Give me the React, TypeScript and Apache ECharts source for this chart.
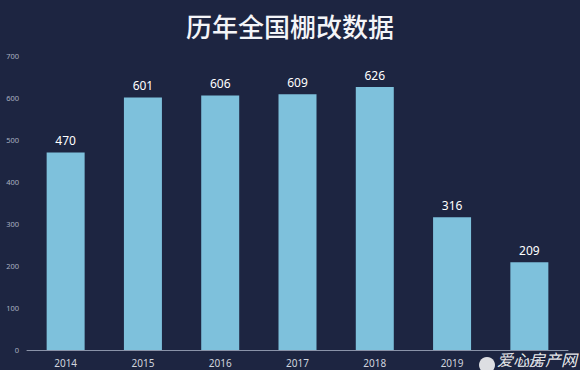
import React, { useEffect, useRef } from "react";
import * as echarts from "echarts";

const years = ["2014", "2015", "2016", "2017", "2018", "2019", "2020"];
const values = [470, 601, 606, 609, 626, 316, 209];
const title = "历年全国棚改数据";
const watermark = "爱心房产网";

export default function App() {
  const ref = useRef<HTMLDivElement>(null);
  useEffect(() => {
    const chart = echarts.init(ref.current!, null, { renderer: "svg" });
    chart.setOption({
      animation: false,
      backgroundColor: "#1d2541",
      title: {
        text: title,
        left: "center",
        top: 7,
        textStyle: {
          color: "#f4f5f8",
          fontSize: 26,
          fontWeight: 500,
          fontFamily: "Noto Sans CJK SC",
        },
      },
      grid: { left: 27, right: 12, top: 56, bottom: 20 },
      xAxis: {
        type: "category",
        data: years,
        axisLine: { lineStyle: { color: "#8a93a8", width: 1 } },
        axisTick: { show: false },
        axisLabel: { color: "#d0d4de", fontSize: 10, margin: 8, fontFamily: "Noto Sans" },
      },
      yAxis: {
        type: "value",
        min: 0,
        max: 700,
        interval: 100,
        splitLine: { show: false },
        axisLine: { show: false },
        axisTick: { show: false },
        axisLabel: { color: "#a9b0c0", fontSize: 7.5, margin: 8, fontFamily: "Noto Sans" },
      },
      series: [
        {
          type: "bar",
          data: values,
          barWidth: 38,
          itemStyle: { color: "#7ec1dc" },
          label: {
            show: true,
            position: "top",
            distance: 6,
            color: "#ffffff",
            fontSize: 12,
            fontFamily: "Noto Sans",
          },
        },
      ],
      graphic: [
        {
          type: "circle",
          shape: { cx: 487, cy: 365, r: 8 },
          style: { fill: "#ffffff", opacity: 0.85 },
        },
        {
          type: "text",
          x: 497,
          y: 351,
          style: {
            text: watermark,
            fill: "#ffffff",
            opacity: 0.9,
            fontSize: 16,
            fontStyle: "italic",
            fontFamily: "Noto Sans CJK SC",
          },
        },
      ],
    });
    return () => chart.dispose();
  }, []);
  return <div ref={ref} style={{ width: 580, height: 370, position: "absolute", left: 0, top: 0 }} />;
}
